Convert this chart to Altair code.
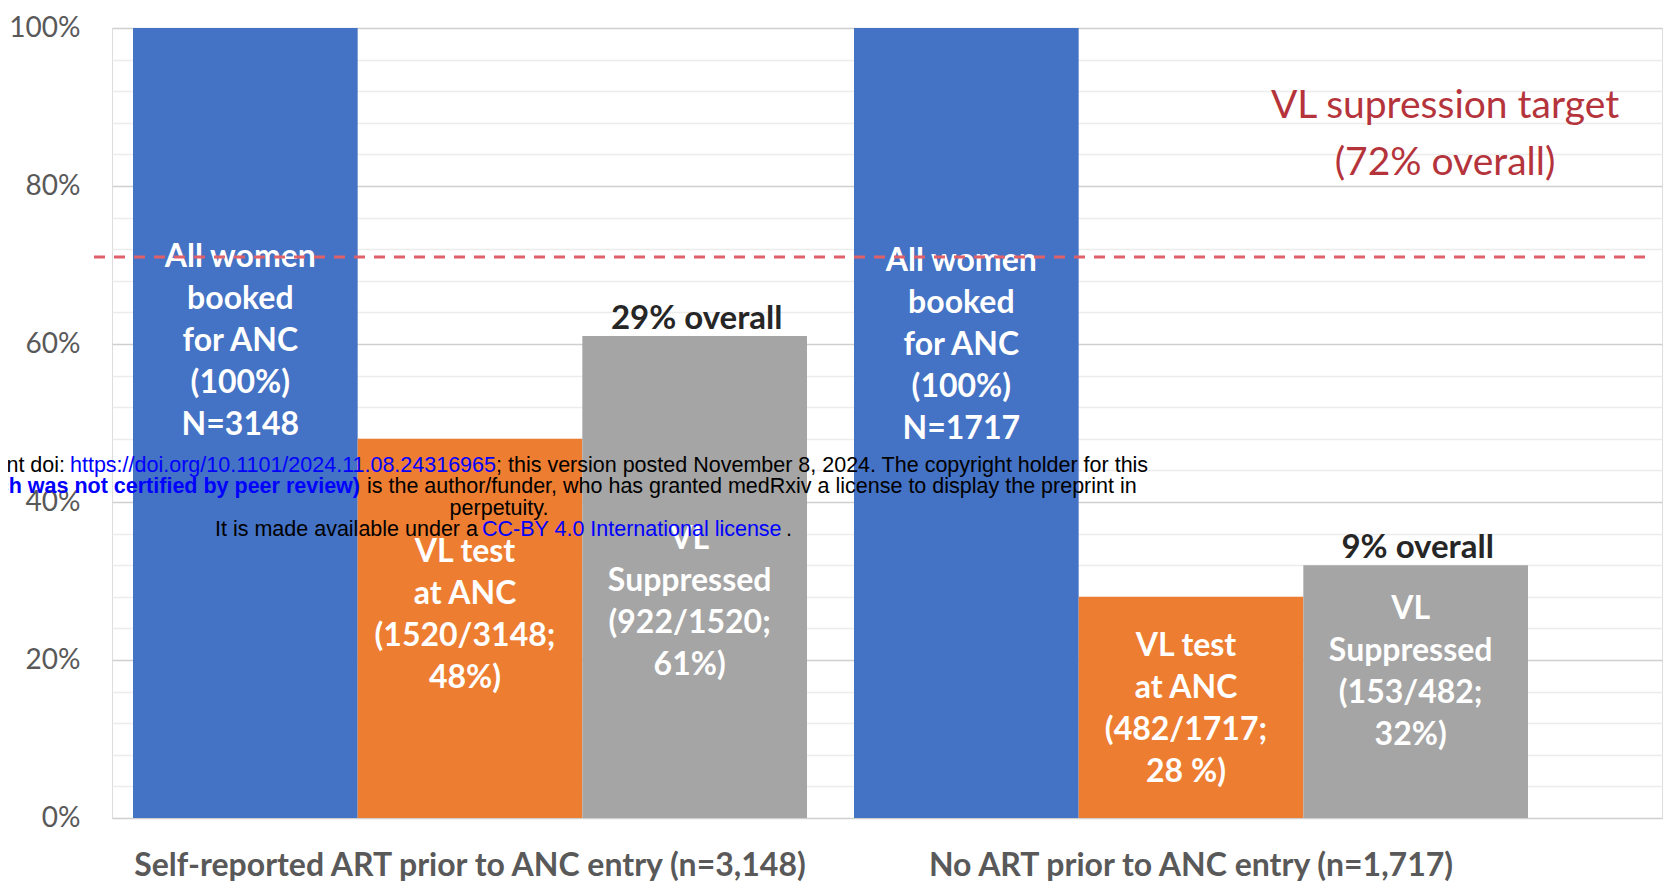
import altair as alt
import pandas as pd

# ---------------- data ----------------
groups = ["Self-reported ART prior to ANC entry (n=3,148)",
          "No ART prior to ANC entry (n=1,717)"]
steps = ["All women booked for ANC", "VL test at ANC", "VL suppressed"]
colors = ["#4472C4", "#ED7D31", "#A5A5A5"]

pct_self = [100, 48, 61]
pct_none = [100, 28, 32]

labels_self = ["All women\nbooked\nfor ANC\n(100%)\nN=3148",
               "VL test\nat ANC\n(1520/3148;\n48%)",
               "VL\nSuppressed\n(922/1520;\n61%)"]
labels_none = ["All women\nbooked\nfor ANC\n(100%)\nN=1717",
               "VL test\nat ANC\n(482/1717;\n28 %)",
               "VL\nSuppressed\n(153/482;\n32%)"]
# vertical anchor (in %) of the first text line inside each bar
label_pos_self = [72.9, 35.6, 37.2]
label_pos_none = [72.4, 23.7, 28.4]

overall_text = ["29% overall", "9% overall"]
overall_pct = [61, 32]

target_pct = [71]
target_text = ["VL supression target\n(72% overall)"]

y_ticks = list(range(0, 101, 4))

wm_line1 = ["rint doi:", "https://doi.org/10.1101/2024.11.08.24316965",
            "; this version posted November 8, 2024. The copyright holder for this"]
wm_line2 = ["ch was not certified by peer review)",
            "is the author/funder, who has granted medRxiv a license to display the preprint in"]
wm_line3 = ["perpetuity."]
wm_line4 = ["It is made available under a", "CC-BY 4.0 International license", "."]

# ---------------- tables ----------------
rows = []
for g, vals, labs, pos in [(groups[0], pct_self, labels_self, label_pos_self),
                           (groups[1], pct_none, labels_none, label_pos_none)]:
    for s, v, l, p in zip(steps, vals, labs, pos):
        rows.append({"group": g, "step": s, "pct": v, "label": l, "labelY": p})
df = pd.DataFrame(rows)

df_overall = pd.DataFrame({"group": groups, "step": [steps[2]] * 2,
                           "pct": overall_pct, "text": overall_text})
df_target = pd.DataFrame({"pct": target_pct})
df_target_text = pd.DataFrame({"t": target_text})

FONT = "Lato"

x_enc = alt.X("group:N", sort=groups,
              scale=alt.Scale(domain=groups, paddingInner=0.0652,
                              paddingOuter=0.1075, align=0.1355),
              axis=alt.Axis(title=None, labelAngle=0, domain=False, ticks=False,
                            labelFontSize=32, labelFontWeight="bold",
                            labelColor="#595959", labelFont=FONT,
                            labelPadding=32, labelLimit=0, grid=False))
xo_enc = alt.XOffset("step:N", sort=steps,
                     scale=alt.Scale(domain=steps, paddingInner=0, paddingOuter=0))
y_scale = alt.Scale(domain=[0, 100], nice=False)

bars = alt.Chart(df).mark_bar().encode(
    x=x_enc,
    xOffset=xo_enc,
    y=alt.Y("pct:Q", scale=y_scale,
            axis=alt.Axis(title=None, values=y_ticks, tickCount=40,
                          labelExpr="datum.value % 20 === 0 ? datum.value + '%' : ''",
                          labelOverlap=False, domain=False, ticks=False,
                          labelFontSize=28, labelColor="#595959", labelFont=FONT,
                          labelPadding=32,
                          grid=True, gridWidth=1.5,
                          gridColor={"condition": {"test": "datum.value % 20 === 0",
                                                   "value": "#cfcfcf"},
                                     "value": "#ececec"})),
    color=alt.Color("step:N", scale=alt.Scale(domain=steps, range=colors), legend=None),
)

bar_labels = alt.Chart(df).mark_text(
    lineBreak="\n", baseline="top", align="center", color="white",
    fontSize=32, fontWeight="bold", font=FONT, lineHeight=42, dx=-5
).encode(
    x=alt.X("group:N", sort=groups),
    xOffset=alt.XOffset("step:N", sort=steps),
    y=alt.Y("labelY:Q"),
    text="label:N",
)

overall = alt.Chart(df_overall).mark_text(
    baseline="bottom", align="center", color="#262626",
    fontSize=33, fontWeight="bold", font=FONT, dx=2
).encode(
    x=alt.X("group:N", sort=groups),
    xOffset=alt.XOffset("step:N", sort=steps),
    y=alt.Y("pct:Q"),
    text="text:N",
)

target_rule = alt.Chart(df_target).mark_rule(
    color="#E0606A", strokeWidth=3, strokeDash=[11, 9]
).encode(
    y=alt.Y("pct:Q"),
    x=alt.value(-18), x2=alt.value(1535),
)

target_label = alt.Chart(df_target_text).mark_text(
    lineBreak="\n", baseline="top", align="center", color="#B5343C",
    fontSize=39, font=FONT, lineHeight=57
).encode(
    x=alt.value(1333), y=alt.value(59), text="t:N"
)

# ----- medRxiv watermark overlay (page coords shifted to plot origin 112,28) -----
one = pd.DataFrame({"k": [0]})


def seg(text, px, py, align="left", color="black", weight="normal"):
    return alt.Chart(one).mark_text(
        text=text, align=align, baseline="middle", color=color,
        fontSize=21.5, font="Liberation Sans", fontWeight=weight
    ).encode(x=alt.value(px - 112), y=alt.value(py - 28))


wm = [
    seg(wm_line1[0], 65, 466, align="right"),
    seg(wm_line1[1], 70, 466, color="#0000FF"),
    seg(wm_line1[2], 496, 466),
    seg(wm_line2[0], 360, 487, align="right", color="#0000FF", weight="bold"),
    seg(wm_line2[1], 367, 487),
    seg(wm_line3[0], 499, 509, align="center"),
    seg(wm_line4[0], 215, 530),
    seg(wm_line4[1], 482, 530, color="#0000FF"),
    seg(wm_line4[2], 786, 530),
]

chart = alt.layer(bars, bar_labels, overall, target_rule, target_label, *wm).properties(
    width=1550, height=790,
    autosize=alt.AutoSizeParams(type="none"),
    padding={"left": 104, "top": 20, "right": 2, "bottom": 66},
).configure_view(stroke=None).configure(background="white")

chart.save("out.html", embed_options={"renderer": "svg", "actions": False})
